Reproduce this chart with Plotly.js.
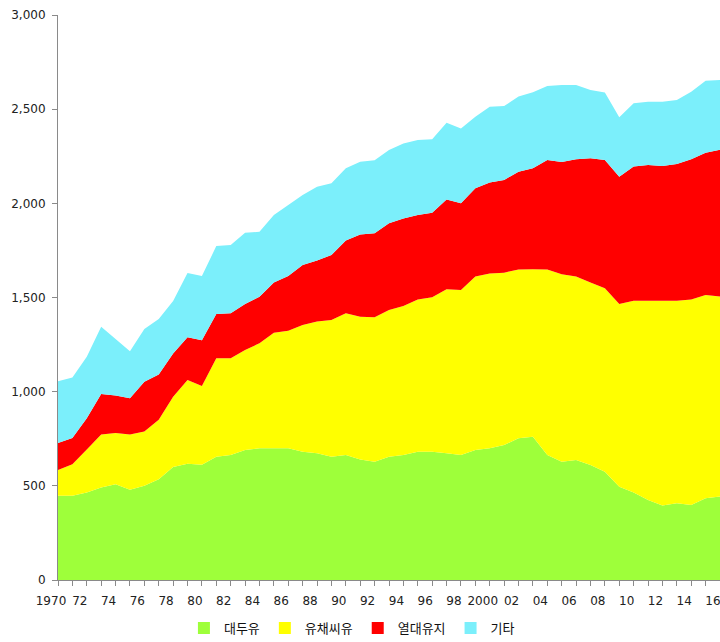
<!DOCTYPE html>
<html>
<head>
<meta charset="utf-8">
<script src="https://cdn.plot.ly/plotly-3.0.1.min.js"></script>
<style>
  html, body { margin: 0; padding: 0; background: #ffffff; }
  #chart { width: 720px; height: 642px; }
</style>
</head>
<body>
<div id="chart"></div>
<script>
// Years shown on the x axis
const years = [];
for (let y = 1970; y <= 2016; y++) years.push(y);

// Series values (per series, stacked)
const soybean = [447,447,465,491,509,479,500,535,600,617,612,655,664,690,699,699,699,681,673,655,664,640,628,655,664,681,681,673,664,690,699,717,752,761,664,628,637,611,575,495,465,425,395,407,398,434,443];
const rapeseed = [137,167,228,281,271,293,289,316,373,445,418,522,513,531,558,614,625,673,699,726,752,758,767,779,791,809,820,871,876,921,929,915,897,889,985,995,974,968,974,970,1018,1058,1088,1076,1092,1079,1062];
const tropical = [144,140,166,215,200,193,263,240,229,227,243,235,239,244,247,266,290,319,324,345,386,437,446,460,465,448,449,477,460,469,482,492,519,536,581,597,623,660,681,676,712,721,715,726,744,756,780];
const others = [327,321,326,358,300,250,281,295,280,341,341,361,363,379,345,359,377,371,392,380,384,386,388,389,398,398,390,407,398,380,403,393,399,404,393,408,394,363,358,316,336,336,342,340,359,382,370];

// Series names and colours
const seriesNames = ['대두유', '유채씨유', '열대유지', '기타'];
const seriesColors = ['#9EFF3A', '#FFFF00', '#FF0000', '#7BEFFB'];
const seriesValues = [soybean, rapeseed, tropical, others];

// Tick labels on the x axis
const xTickVals = [1970,1972,1974,1976,1978,1980,1982,1984,1986,1988,1990,1992,1994,1996,1998,2000,2002,2004,2006,2008,2010,2012,2014,2016];
const xTickText = ['1970','72','74','76','78','80','82','84','86','88','90','92','94','96','98','2000','02','04','06','08','10','12','14','16'];

const traces = [];
seriesValues.forEach((vals, i) => {
  traces.push({
    type: 'scatter',
    x: years,
    y: vals,
    name: seriesNames[i],
    stackgroup: 'one',
    mode: 'none',
    fill: i === 0 ? 'tozeroy' : 'tonexty',
    fillcolor: seriesColors[i],
    line: { width: 0, color: seriesColors[i] },
    showlegend: false,
    legendgroup: 'g' + i,
    hoverinfo: 'x+y+name'
  });
});
// legend entries (square swatches)
seriesValues.forEach((vals, i) => {
  traces.push({
    type: 'bar',
    x: [null],
    y: [null],
    name: seriesNames[i],
    marker: { color: seriesColors[i] },
    legendgroup: 'g' + i,
    showlegend: true,
    hoverinfo: 'skip'
  });
});

const axisFont = { family: 'DejaVu Sans, Verdana, sans-serif', size: 12, color: '#222222' };

const layout = {
  width: 720,
  height: 642,
  margin: { l: 58, r: 0, t: 15, b: 62, pad: 0, autoexpand: false },
  paper_bgcolor: '#ffffff',
  plot_bgcolor: '#ffffff',
  showlegend: true,
  xaxis: {
    range: [1970, 2016],
    tickmode: 'array',
    tickvals: xTickVals,
    ticktext: xTickText,
    ticks: 'outside',
    ticklen: 5,
    tickwidth: 1,
    tickcolor: '#8a8a8a',
    ticklabelshift: -7,
    ticklabelstandoff: 5,
    ticklabeloverflow: 'allow',
    minor: { tick0: 1970, dtick: 1, ticks: 'outside', ticklen: 5, tickwidth: 1, tickcolor: '#8a8a8a', showgrid: false },
    showline: true,
    linecolor: '#8a8a8a',
    linewidth: 1,
    showgrid: false,
    zeroline: false,
    tickfont: axisFont,
    fixedrange: true
  },
  yaxis: {
    range: [0, 3000],
    tickmode: 'array',
    tickvals: [0, 500, 1000, 1500, 2000, 2500, 3000],
    tickformat: ',d',
    ticks: 'outside',
    ticklen: 5,
    tickwidth: 1,
    tickcolor: '#8a8a8a',
    showline: true,
    linecolor: '#8a8a8a',
    linewidth: 1,
    showgrid: false,
    zeroline: false,
    tickfont: axisFont,
    ticklabelstandoff: 4,
    ticklabeloverflow: 'allow',
    fixedrange: true
  },
  legend: {
    orientation: 'h',
    x: 0.444,
    xanchor: 'center',
    y: -0.085,
    yanchor: 'middle',
    traceorder: 'normal',
    font: { family: 'Noto Sans CJK KR, sans-serif', size: 13, color: '#111111' },
    itemwidth: 30,
    bgcolor: 'rgba(0,0,0,0)'
  }
};

Plotly.newPlot('chart', traces, layout, { displayModeBar: false, staticPlot: true });
</script>
</body>
</html>
